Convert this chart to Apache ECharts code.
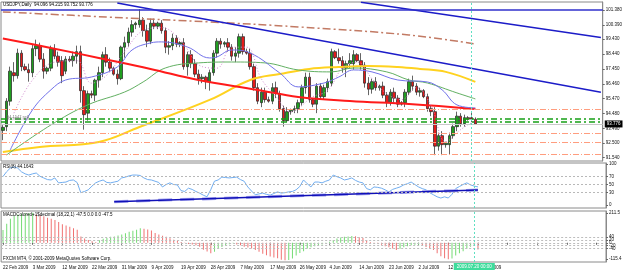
<!DOCTYPE html>
<html>
<head>
<meta charset="utf-8">
<script src="https://cdn.jsdelivr.net/npm/echarts@6/dist/echarts.min.js"></script>
<style>
html, body { margin: 0; padding: 0; background: #fff; }
#chart { width: 625px; height: 271px; }
</style>
</head>
<body>
<div id="chart"></div>
<script>
// daily bars [open, high, low, close], FXCM feed with sunday bars, 22 Feb .. 21 Jul 2009
var bars = [
  [93.35,93.7,92.7,93.55],[93.6,95.5,93.3,95.3],[95.3,97.6,95.0,97.3],[97.2,97.9,96.6,97.0],[97.0,98.8,96.8,98.5],[98.5,98.7,97.3,97.6],
  [97.6,97.8,97.3,97.4],[97.4,97.8,96.6,97.2],[97.2,99.1,96.9,98.8],[98.8,99.4,98.3,99.0],[99.0,99.2,97.9,98.1],[98.1,98.5,96.8,97.3],
  [97.3,97.6,97.1,97.5],[97.5,99.0,97.3,98.8],[98.8,99.1,98.1,98.3],[98.3,98.6,97.6,97.9],[98.0,98.3,96.5,97.0],[97.3,98.3,97.1,98.1],
  [98.1,98.3,97.9,98.0],[98.0,98.6,97.6,98.3],[98.3,99.0,97.8,98.6],[98.6,99.0,95.2,96.0],[96.0,96.3,93.4,94.4],[94.5,96.0,94.0,95.8],
  [95.8,96.0,95.5,95.7],[95.7,96.8,95.3,96.7],[96.7,97.6,96.2,97.2],[97.2,98.6,96.9,98.4],[98.4,98.9,97.6,97.9],[97.9,98.2,97.3,97.5],
  [97.5,97.6,97.0,97.1],[97.1,97.4,96.4,96.8],[96.8,99.0,96.7,98.9],[98.9,99.6,98.2,99.2],[99.2,100.2,98.9,99.9],[99.9,100.7,99.6,100.4],
  [100.4,100.6,100.1,100.5],[100.4,101.43,100.2,100.7],[100.7,100.9,99.6,100.0],[100.0,100.4,98.9,99.3],[99.3,100.8,99.1,100.5],[100.5,100.8,100.1,100.3],
  [100.3,100.6,100.1,100.5],[100.5,100.7,99.8,100.0],[100.0,100.2,98.5,98.9],[98.9,99.3,98.4,99.0],[99.0,99.8,98.7,99.5],[99.5,99.7,98.9,99.1],
  [99.1,99.3,98.9,99.2],[99.2,99.5,97.4,97.6],[97.6,98.6,97.0,98.4],[98.4,98.7,97.5,97.8],[97.8,98.1,96.9,97.1],[97.1,97.4,96.4,96.8],
  [96.8,97.1,96.5,96.9],[96.9,97.0,96.1,96.6],[96.6,97.4,96.0,97.2],[97.2,98.7,97.0,98.5],[98.5,99.5,98.2,99.3],[99.3,99.5,98.8,99.1],
  [99.1,99.3,98.9,99.2],[99.2,99.5,98.6,98.9],[98.9,99.1,98.0,98.3],[98.3,98.9,97.9,98.5],[98.5,99.8,98.2,99.6],[99.6,99.8,98.4,98.6],
  [98.6,98.8,98.4,98.5],[98.5,98.8,97.4,97.6],[97.6,97.8,96.0,96.2],[96.2,96.5,95.1,95.3],[95.2,96.2,94.9,95.9],[95.9,96.2,95.2,95.4],
  [95.4,95.6,95.2,95.3],[95.3,96.5,95.1,96.2],[96.2,96.6,95.5,95.8],[95.8,96.0,94.6,94.8],[94.8,95.0,93.6,94.0],[94.0,94.9,93.9,94.6],
  [94.6,94.8,94.4,94.7],[94.7,95.0,94.5,94.8],[94.8,95.4,94.5,95.2],[95.2,96.4,95.0,96.2],[96.2,97.2,95.8,96.9],[96.9,97.2,95.2,95.4],
  [95.4,95.5,94.9,95.1],[95.1,96.5,94.5,96.3],[96.3,96.5,95.4,95.6],[95.6,96.4,95.4,96.2],[96.2,96.8,95.9,96.6],[96.5,98.8,96.3,98.6],
  [98.6,98.7,98.1,98.2],[98.2,98.8,97.8,98.0],[98.0,98.3,97.2,97.5],[97.5,98.0,96.9,97.8],[97.8,98.5,97.5,98.0],[97.8,98.7,97.4,98.4],
  [98.4,98.5,97.9,98.0],[98.0,98.5,97.4,97.7],[97.7,97.9,96.2,96.5],[96.5,96.9,95.7,96.1],[96.1,96.8,95.8,96.6],[96.6,96.9,96.0,96.2],
  [96.2,96.4,96.0,96.3],[96.3,96.6,95.5,95.7],[95.7,95.9,94.9,95.2],[95.2,96.1,95.0,95.9],[95.9,96.2,95.2,95.5],[95.5,95.7,94.9,95.1],
  [95.1,95.3,95.0,95.2],[95.2,96.1,94.9,95.9],[95.9,96.8,95.7,96.6],[96.6,97.0,96.0,96.3],[96.3,96.5,95.7,95.9],[95.9,96.2,95.6,96.0],
  [96.0,96.1,95.5,95.6],[95.6,95.8,94.6,94.8],[94.8,95.0,94.3,94.6],[94.6,94.9,91.7,92.3],[92.3,93.2,92.0,93.0],[93.0,93.3,91.7,92.4],
  [92.4,92.6,92.2,92.5],[92.4,93.2,91.72,93.0],[93.0,93.8,92.8,93.6],[93.6,94.6,93.3,94.3],[94.3,94.5,93.6,93.8],[93.8,94.4,93.6,94.2],
  [94.2,94.3,94.0,94.1],[94.2,94.6,93.9,94.1],[94.096,94.215,93.752,93.776]
];

// moving averages as [bar index, price]
var maRed = [[0,99.48],[13,98.85],[26,98.18],[40,97.45],[53,96.71],[69,96.05],[80,95.58],[94,95.31],[110,95.11],[128,94.78]];
var maBrown = [[0,101.25],[28,100.91],[56,100.58],[80,100.25],[110,99.71],[128,99.11]];
var maYellow = [[0,91.91],[10,92.25],[26,92.58],[37,93.58],[56,95.38],[67,96.71],[75,97.11],[83,97.45],[91,97.58],[99,97.65],[107,97.58],[113,97.45],[120,97.25],[128,96.58]];
var maGreen = [[1,91.71],[13,93.71],[23,95.05],[33,95.91],[38,96.58],[44,97.51],[53,97.85],[62,97.91],[71,97.85],[80,97.38],[89,97.25],[95,97.51],[104,97.25],[110,96.71],[115,96.51],[123,95.85],[128,95.45]];
var maBlue = [[2,92.05],[8,94.71],[13,96.05],[17,96.71],[24,96.91],[31,97.58],[35,98.71],[40,99.18],[43,99.25],[50,98.91],[56,98.18],[58,98.25],[62,98.71],[67,98.51],[75,97.18],[80,96.25],[87,96.51],[91,96.91],[95,97.38],[100,97.25],[107,96.71],[115,96.58],[119,96.05],[123,95.05],[128,94.85]];
var maPink = [[3,94.5],[8,96.7],[14,97.9],[20,98.0],[24,96.5],[28,97.0],[33,98.6],[38,100.0],[43,100.2],[48,99.4],[54,97.6],[58,97.5],[62,98.9],[66,98.9],[70,96.8],[74,95.6],[78,94.6],[84,95.6],[88,96.0],[92,97.5],[96,97.9],[100,96.8],[104,95.8],[108,95.4],[112,96.2],[116,95.0],[120,92.6],[124,93.4],[128,94.0]];

// trend lines [bar index, price]
var trendUpper = [[97,101.90],[162,99.55]];
var trendLower = [[31,101.85],[162,95.90]];

// horizontal levels
var highLevel = 101.38;
var orangeLevels = [94.78, 93.18, 92.58, 91.78];
var sellLevels = [94.1547, 93.9563];
var sellNames = ['94.1547 sell', '93.9563 sell'];
var lastPrice = 93.776;

var priceTicks = [101.380, 100.390, 99.430, 98.440, 97.450, 96.460, 95.470, 94.480, 93.490, 92.500, 91.540];

// RSI(8)
var rsi = [69,81,90,93,90,81,76,73,76,78,70,66,62,61,66,54,55,56,60,61,55,30,33,37,46,54,58,61,55,54,
  56,58,66,68,71,73,73,72,66,62,61,58,55,44,50,54,50,49,35,33,41,38,33,29,24,20,37,58,61,68,
  67,66,67,68,62,58,44,34,25,27,29,26,24,28,32,29,30,32,33,37,45,61,52,44,56,56,54,58,61,73,
  69,66,61,63,66,60,56,54,40,37,44,43,41,37,32,38,41,44,49,52,56,50,44,40,37,30,25,20,17,20,
  17,26,40,45,50,54,49,46,44.16];
var rsiTicks = [100, 70, 50, 30, 0];
var rsiLevels = [70, 50, 30];
var rsiTrend = [[30,8],[128,36.6]];

// MACD histogram
var macd = [90,135,170,190,200,207,210,212,213,200,196,188,178,170,162,148,132,122,113,103,92,45,30,20,10,6,18,28,34,42,
  45,52,58,68,78,86,92,103,100,94,88,70,58,50,42,32,22,14,6,-2,-8,-12,-18,-28,-50,-62,-75,-63,-40,-30,
  -20,-10,-4,-12,-18,-28,-34,-40,-52,-63,-78,-88,-98,-104,-110,-120,-124,-122,-112,-90,-72,-60,-40,-32,-24,-18,-12,-4,8,20,
  30,38,42,45,48,46,40,34,20,6,-2,-6,-14,-24,-32,-40,-51,-42,-32,-24,-18,-15,-14,-22,-30,-40,-52,-75,-95,-110,
  -118,-112,-90,-75,-60,-40,-28,-22,-47.5];
var macdTicks = [211.5, 40, 20, 0, -20, -40, -115.4];
var macdLevels = [40, 20, 0, -20, -40];

var monthNames = ['Jan','Feb','Mar','Apr','May','Jun','Jul','Aug','Sep','Oct','Nov','Dec'];
var dates = [];
var day = new Date(2009, 1, 22);
while (dates.length < bars.length) {
  if (day.getDay() !== 6) dates.push(day.getDate() + ' ' + monthNames[day.getMonth()] + ' ' + day.getFullYear());
  day.setDate(day.getDate() + 1);
}
var cats = dates.slice();
for (var k = 0; k < 34; k++) cats.push('shift' + k);   // empty room on the right (chart shift)
var cursorDate = dates[127];

var FONT = 'Liberation Sans';
var FS = 4.5;
var small = { fontFamily: FONT, fontSize: FS, color: '#111' };

function maLine(data, color, width, type) {
  return {
    type: 'line', xAxisIndex: 0, yAxisIndex: 0, data: data, smooth: 0.4,
    showSymbol: false, silent: true,
    lineStyle: { color: color, width: width, type: type || 'solid' }
  };
}

var mainLines = [];
orangeLevels.forEach(function (v) {
  mainLines.push({ yAxis: v, lineStyle: { color: '#ff9d7e', type: [6, 2, 1, 2], width: 1 } });
});
sellLevels.forEach(function (v, i) {
  mainLines.push({
    yAxis: v, lineStyle: { color: '#17a017', type: [6, 3, 2, 3], width: 1.5 },
    label: { show: true, position: 'insideStartTop', formatter: sellNames[i], fontFamily: FONT, fontSize: 4, color: '#777', distance: [6, 0] }
  });
});
mainLines.push({ yAxis: highLevel, lineStyle: { color: '#3030cc', type: 'solid', width: 1.5 } });
mainLines.push({
  yAxis: lastPrice, lineStyle: { color: '#c8c8c8', type: 'solid', width: 1 },
  label: { show: true, position: 'end', formatter: lastPrice.toFixed(3), backgroundColor: '#000', color: '#fff',
    fontFamily: FONT, fontSize: FS, padding: [1, 2], distance: 2 }
});
mainLines.push({ xAxis: cursorDate, lineStyle: { color: '#5fe0c2', type: [2, 2], width: 1 } });

function cursorLine(withLabel) {
  var item = { xAxis: cursorDate, lineStyle: { color: '#5fe0c2', type: [2, 2], width: 1 } };
  if (withLabel) {
    item.label = { show: true, position: 'start', formatter: '2009.07.20 00:00', backgroundColor: '#3edc9c',
      color: '#fff', fontFamily: FONT, fontSize: FS, padding: [1, 3], distance: 1 };
  }
  return item;
}

var gridBase = { left: 1, right: 19, show: true, borderColor: '#8a8a8a', borderWidth: 1, backgroundColor: '#fff' };

var option = {
  animation: false,
  backgroundColor: '#fff',
  textStyle: { fontFamily: FONT },
  title: [
    { text: 'USDJPY,Daily  94.096 94.215 93.752 93.776', left: 3, top: 2, padding: 0, textStyle: { fontFamily: FONT, fontSize: FS, fontWeight: 'normal', color: '#000' } },
    { text: 'RSI(8) 44.1643', left: 3, top: 164, padding: 0, textStyle: { fontFamily: FONT, fontSize: FS, fontWeight: 'normal', color: '#000' } },
    { text: 'MACDColored+1$decimal (18,22,1) -47.5 0.0 0.0 -47.5', left: 3, top: 212, padding: 0, textStyle: { fontFamily: FONT, fontSize: FS, fontWeight: 'normal', color: '#000' } },
    { text: 'FXCM MT4, \u00a9 2001-2009 MetaQuotes Software Corp.', left: 3, top: 256, padding: 0, textStyle: { fontFamily: FONT, fontSize: FS, fontWeight: 'normal', color: '#000' } }
  ],
  grid: [
    Object.assign({ top: 2, height: 159 }, gridBase),
    Object.assign({ top: 163, height: 45 }, gridBase),
    Object.assign({ top: 211, height: 51 }, gridBase)
  ],
  xAxis: [0, 1, 2].map(function (g) {
    return {
      type: 'category', gridIndex: g, data: cats, boundaryGap: true,
      axisLine: { show: false }, splitLine: { show: false },
      axisTick: { show: g === 2, interval: 7, alignWithLabel: true, length: 2, lineStyle: { color: '#666' } },
      axisLabel: {
        show: g === 2, interval: 7, align: 'left', margin: 3, fontFamily: FONT, fontSize: FS, color: '#111',
        formatter: function (v, i) { return i < dates.length ? v : ''; }
      }
    };
  }),
  yAxis: [
    {
      type: 'value', gridIndex: 0, position: 'right', min: 91.31, max: 101.91,
      axisLine: { show: true, lineStyle: { color: '#8a8a8a' } },
      axisTick: { show: true, length: 2, customValues: priceTicks, lineStyle: { color: '#666' } },
      axisLabel: Object.assign({ customValues: priceTicks, margin: 3, formatter: function (v) { return v.toFixed(3); } }, small),
      splitLine: { show: false }
    },
    {
      type: 'value', gridIndex: 1, position: 'right', min: -7.3, max: 102.4,
      axisLine: { show: true, lineStyle: { color: '#8a8a8a' } },
      axisTick: { show: true, length: 2, customValues: rsiTicks, lineStyle: { color: '#666' } },
      axisLabel: Object.assign({ customValues: rsiTicks, margin: 3 }, small),
      splitLine: { show: false }
    },
    {
      type: 'value', gridIndex: 2, position: 'right', min: -136.7, max: 225.7,
      axisLine: { show: true, lineStyle: { color: '#8a8a8a' } },
      axisTick: { show: true, length: 2, customValues: macdTicks, lineStyle: { color: '#666' } },
      axisLabel: Object.assign({ customValues: macdTicks, margin: 3 }, small),
      splitLine: { show: false }
    }
  ],
  series: [
    {
      type: 'candlestick', xAxisIndex: 0, yAxisIndex: 0, barWidth: 3, silent: true,
      data: bars.map(function (b) { return [b[0], b[3], b[2], b[1]]; }),
      itemStyle: { color: '#1f9e1f', color0: '#e41a1a', borderColor: '#222', borderColor0: '#222', borderWidth: 0.7 },
      markLine: { silent: true, symbol: ['none', 'none'], label: { show: false }, data: mainLines }
    },
    maLine(maYellow, '#ffd21f', 2),
    maLine(maGreen, '#62b062', 1),
    maLine(maBrown, '#c27a64', 1.5, [8, 3, 2, 3]),
    maLine(maRed, '#ff1a1a', 2),
    maLine(maBlue, '#7272ea', 1),
    maLine(maPink, '#d28ad0', 1, [1, 2]),
    { type: 'line', xAxisIndex: 0, yAxisIndex: 0, data: trendUpper, showSymbol: false, silent: true, lineStyle: { color: '#1c1cc8', width: 1.5 } },
    { type: 'line', xAxisIndex: 0, yAxisIndex: 0, data: trendLower, showSymbol: false, silent: true, lineStyle: { color: '#1c1cc8', width: 1.5 } },
    {
      type: 'line', xAxisIndex: 1, yAxisIndex: 1, data: rsi, showSymbol: false, silent: true,
      lineStyle: { color: '#72aef0', width: 1 },
      markLine: {
        silent: true, symbol: ['none', 'none'], label: { show: false },
        data: rsiLevels.map(function (v) { return { yAxis: v, lineStyle: { color: '#b8b8b8', type: [2, 2], width: 1 } }; }).concat([cursorLine(false)])
      }
    },
    { type: 'line', xAxisIndex: 1, yAxisIndex: 1, data: rsiTrend, showSymbol: false, silent: true, lineStyle: { color: '#a2a2ee', width: 3, type: [14, 8] } },
    { type: 'line', xAxisIndex: 1, yAxisIndex: 1, data: rsiTrend, showSymbol: false, silent: true, lineStyle: { color: '#1010b8', width: 1.5 } },
    {
      type: 'bar', xAxisIndex: 2, yAxisIndex: 2, data: macd, barWidth: 1, silent: true,
      itemStyle: {
        color: function (p) {
          var i = p.dataIndex;
          return (i === 0 || macd[i] >= macd[i - 1]) ? '#74dc74' : '#f07272';
        }
      },
      markLine: {
        silent: true, symbol: ['none', 'none'], label: { show: false },
        data: macdLevels.map(function (v) { return { yAxis: v, lineStyle: { color: '#bdbdbd', type: [2, 2], width: 1 } }; }).concat([cursorLine(true)])
      }
    }
  ]
};

var chart = echarts.init(document.getElementById('chart'));
chart.setOption(option);
</script>
</body>
</html>
